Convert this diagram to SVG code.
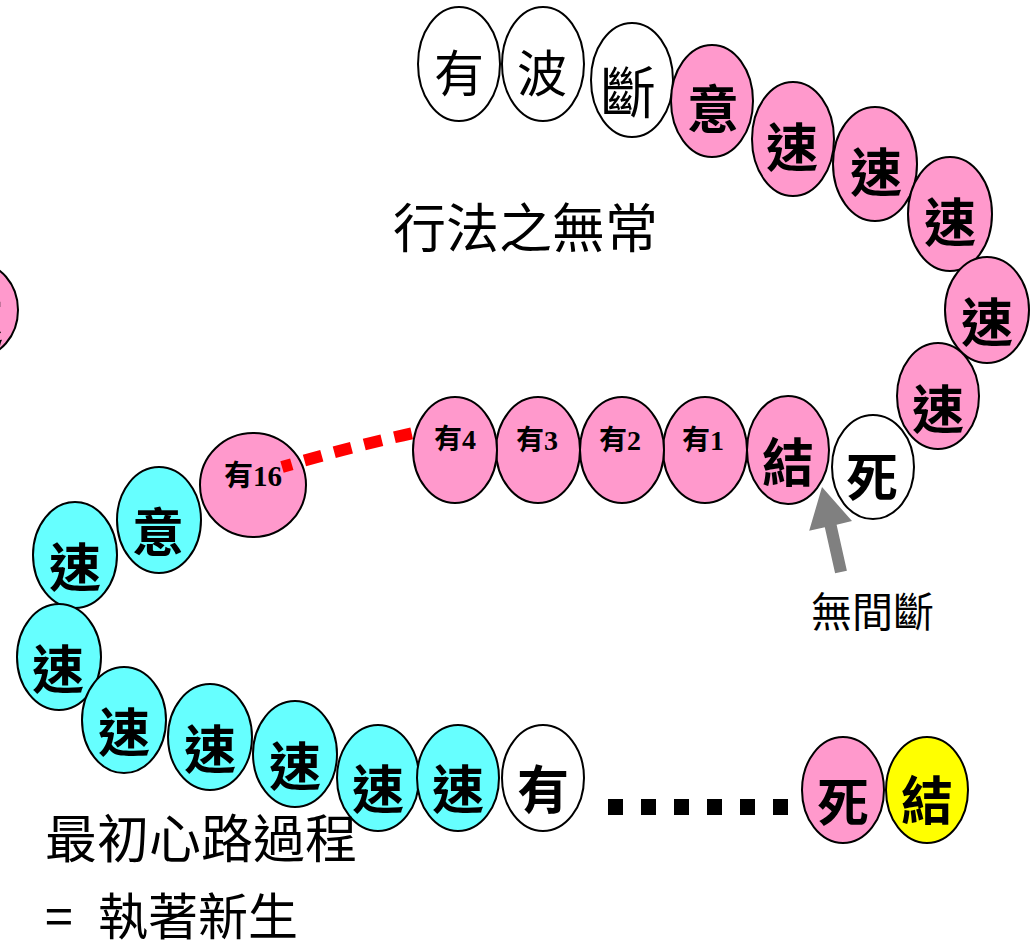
<svg xmlns="http://www.w3.org/2000/svg" width="1035" height="947" viewBox="0 0 1035 947">
<style>
  .nd { stroke: #000; stroke-width: 2; }
  .pk { fill: #FF99CC; }
  .cy { fill: #66FFFF; }
  .wh { fill: #FFFFFF; }
  .yl { fill: #FFFF00; }
  .t { font-family: "Noto Sans CJK TC", "Noto Sans CJK SC", sans-serif; font-weight: 700; font-size: 52px; text-anchor: middle; fill: #000; }
  .tl { font-family: "Noto Sans CJK TC", "Noto Sans CJK SC", sans-serif; font-weight: 400; font-size: 50px; text-anchor: middle; fill: #000; }
  .ts { font-family: "Noto Sans CJK TC", "Noto Sans CJK SC", sans-serif; font-weight: 700; font-size: 28px; text-anchor: middle; fill: #000; }
  .num { font-family: "Liberation Serif", serif; font-weight: 700; }
  .lbl { font-family: "Noto Sans CJK TC", "Noto Sans CJK SC", sans-serif; font-weight: 400; fill: #000; }
</style>
<rect width="1035" height="947" fill="#FFFFFF"/>

<!-- top white nodes -->
<g id="n_top_you"><ellipse class="nd wh" cx="459" cy="64" rx="41" ry="57"/><text class="tl" x="459" y="92">有</text></g>
<g id="n_top_bo"><ellipse class="nd wh" cx="543" cy="64" rx="41" ry="57"/><text class="tl" x="542" y="92">波</text></g>
<g id="n_top_duan"><ellipse class="nd wh" cx="632" cy="80" rx="41" ry="57"/><text class="tl" x="628" y="113" style="font-size:56px">斷</text></g>
<g id="n_top_yi"><ellipse class="nd pk" cx="712" cy="101" rx="41" ry="56"/><text class="t" x="713" y="129">意</text></g>
<g id="n_p1"><ellipse class="nd pk" cx="793" cy="139" rx="41" ry="57"/><text class="t" x="792" y="167">速</text></g>
<g id="n_p2"><ellipse class="nd pk" cx="875" cy="164" rx="42" ry="57"/><text class="t" x="876" y="192">速</text></g>
<g id="n_p3"><ellipse class="nd pk" cx="950" cy="214" rx="42" ry="57"/><text class="t" x="950" y="242">速</text></g>
<g id="n_p4"><ellipse class="nd pk" cx="987" cy="310" rx="42" ry="53"/><text class="t" x="987" y="342">速</text></g>
<g id="n_p5"><ellipse class="nd pk" cx="938" cy="396" rx="41" ry="53"/><text class="t" x="938" y="429">速</text></g>

<!-- left partial -->
<g id="n_left"><ellipse class="nd pk" cx="-23" cy="310" rx="41" ry="47"/><text class="t" x="-23" y="342">速</text></g>

<!-- middle row -->
<g id="n_mid_si"><ellipse class="nd wh" cx="873" cy="467" rx="41" ry="52"/><text class="t" x="872" y="497">死</text></g>
<g id="n_mid_jie"><ellipse class="nd pk" cx="788" cy="450" rx="41" ry="54"/><text class="t" x="788" y="482">結</text></g>
<g id="n_you1"><ellipse class="nd pk" cx="705" cy="450" rx="42" ry="53"/><text class="ts" x="703" y="450">有<tspan class="num">1</tspan></text></g>
<g id="n_you2"><ellipse class="nd pk" cx="622" cy="450" rx="42" ry="53"/><text class="ts" x="620" y="450">有<tspan class="num">2</tspan></text></g>
<g id="n_you3"><ellipse class="nd pk" cx="538" cy="450" rx="42" ry="53"/><text class="ts" x="537" y="450">有<tspan class="num">3</tspan></text></g>
<g id="n_you4"><ellipse class="nd pk" cx="455" cy="450" rx="42" ry="53"/><text class="ts" x="455" y="449">有<tspan class="num">4</tspan></text></g>
<g id="n_you16"><ellipse class="nd pk" cx="253" cy="485" rx="53" ry="52"/><text class="ts" x="253" y="486" style="font-size:29px">有<tspan class="num">16</tspan></text></g>

<!-- cyan nodes -->
<g id="n_c_yi"><ellipse class="nd cy" cx="159" cy="520" rx="42" ry="53"/><text class="t" x="158" y="552">意</text></g>
<g id="n_c1"><ellipse class="nd cy" cx="75" cy="555" rx="42" ry="53"/><text class="t" x="75" y="587">速</text></g>
<g id="n_c2"><ellipse class="nd cy" cx="59" cy="657" rx="42" ry="53"/><text class="t" x="58" y="689">速</text></g>
<g id="n_c3"><ellipse class="nd cy" cx="124" cy="720" rx="42" ry="53"/><text class="t" x="124" y="752">速</text></g>
<g id="n_c4"><ellipse class="nd cy" cx="210" cy="737" rx="42" ry="53"/><text class="t" x="210" y="769">速</text></g>
<g id="n_c5"><ellipse class="nd cy" cx="295" cy="754" rx="42" ry="53"/><text class="t" x="295" y="786">速</text></g>
<g id="n_c6"><ellipse class="nd cy" cx="378" cy="778" rx="41" ry="53"/><text class="t" x="378" y="809">速</text></g>
<g id="n_c7"><ellipse class="nd cy" cx="458" cy="778" rx="41" ry="53"/><text class="t" x="458" y="809">速</text></g>
<g id="n_bot_you"><ellipse class="nd wh" cx="543" cy="778" rx="41" ry="53"/><text class="t" x="543" y="809">有</text></g>

<!-- bottom right -->
<g id="n_bot_si"><ellipse class="nd pk" cx="843" cy="790" rx="41" ry="53"/><text class="t" x="843" y="822">死</text></g>
<g id="n_bot_jie"><ellipse class="nd yl" cx="927" cy="790" rx="41" ry="53"/><text class="t" x="927" y="820">結</text></g>

<g id="connectors">
  <path d="M282,467 Q350,447 413,433" fill="none" stroke="#FF0000" stroke-width="12" stroke-dasharray="18 13" stroke-dashoffset="8"/>
  <line x1="608" y1="807" x2="790" y2="807" stroke="#000" stroke-width="16" stroke-dasharray="15 18"/>
  <polygon points="822,487 852,521 836.6,524.7 846.9,570.7 835.1,573.3 824.8,527.3 809.2,530.8" fill="#808080"/>
</g>

<!-- labels -->
<text class="lbl" x="393" y="248" font-size="53">行法之無常</text>
<text class="lbl" x="811" y="627" font-size="41">無間斷</text>
<text class="lbl" x="45" y="858" font-size="52">最初心路過程</text>
<text class="lbl" font-size="50" y="935"><tspan x="45">=</tspan><tspan x="98">執著新生</tspan></text>
</svg>
